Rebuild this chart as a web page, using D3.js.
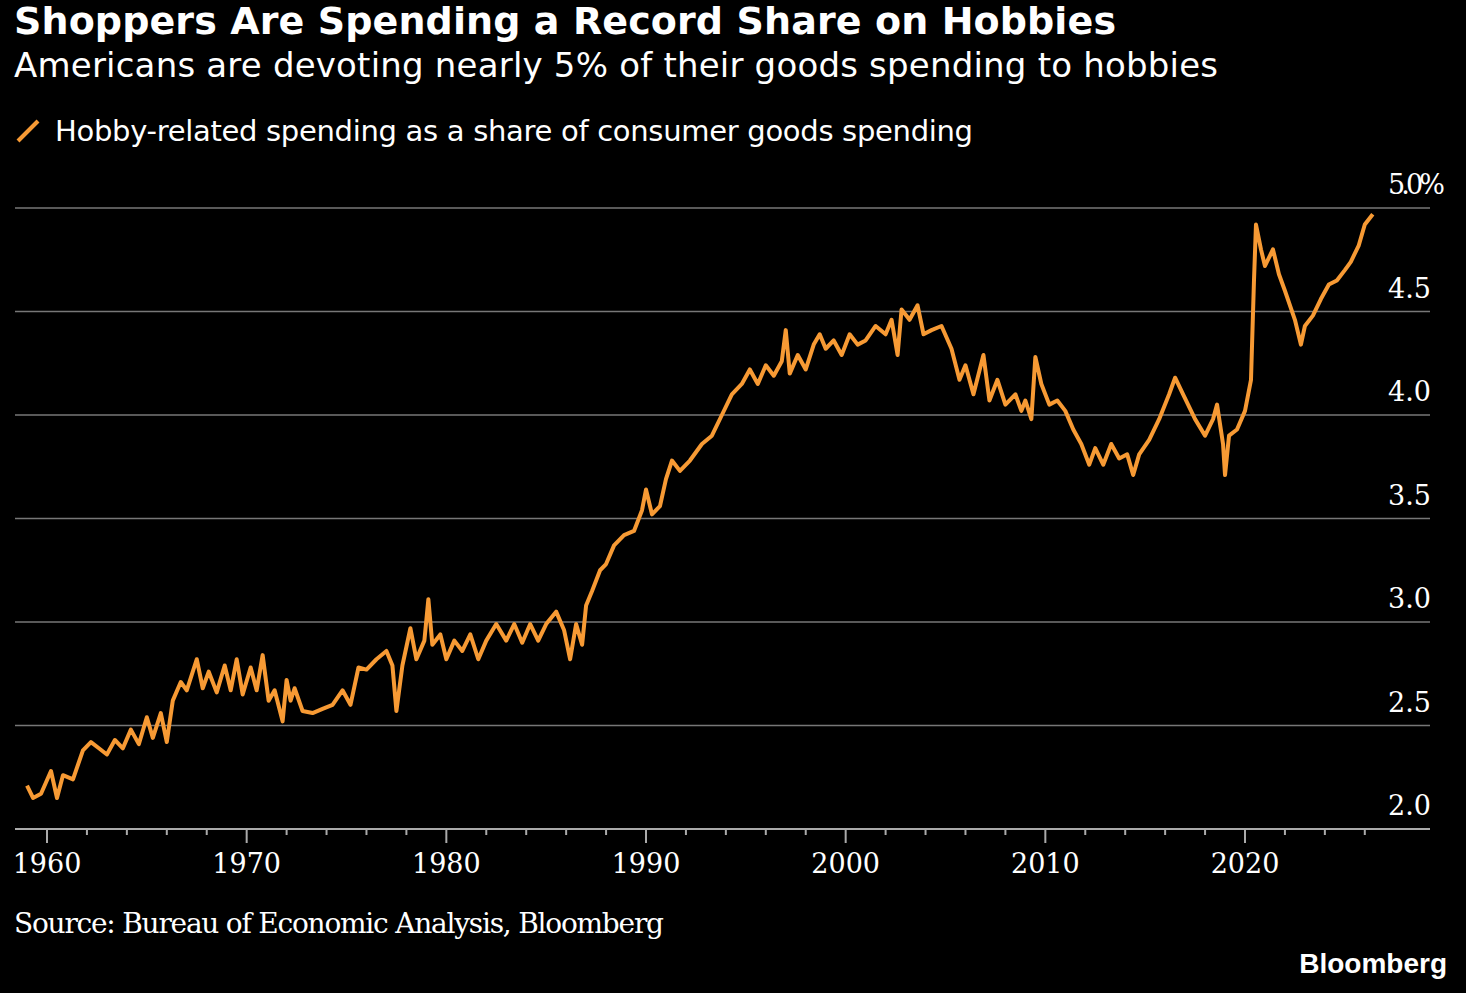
<!DOCTYPE html>
<html><head><meta charset="utf-8">
<script src="https://cdn.jsdelivr.net/npm/d3@7"></script>
<style>
body{margin:0;background:#000;}
svg{display:block;font-family:"Liberation Sans",Arial,sans-serif;}
</style></head><body>
<svg id="chart" width="1466" height="993"></svg>
<script>
const years = [1959.0,1959.3,1959.7,1960.2,1960.5,1960.8,1961.3,1961.8,1962.2,1962.6,1963.0,1963.4,1963.8,1964.2,1964.6,1965.0,1965.3,1965.7,1966.0,1966.3,1966.7,1967.0,1967.5,1967.8,1968.1,1968.5,1968.9,1969.2,1969.5,1969.8,1970.2,1970.5,1970.8,1971.1,1971.4,1971.8,1972.0,1972.2,1972.4,1972.8,1973.3,1973.8,1974.3,1974.8,1975.2,1975.6,1976.0,1976.5,1977.0,1977.3,1977.5,1977.8,1978.2,1978.5,1978.9,1979.1,1979.3,1979.7,1980.0,1980.4,1980.8,1981.2,1981.6,1982.0,1982.5,1983.0,1983.4,1983.8,1984.2,1984.6,1985.0,1985.5,1985.9,1986.2,1986.5,1986.8,1987.0,1987.3,1987.7,1988.0,1988.4,1988.9,1989.4,1989.8,1990.0,1990.3,1990.7,1991.0,1991.3,1991.7,1992.2,1992.8,1993.3,1993.8,1994.3,1994.8,1995.2,1995.6,1996.0,1996.4,1996.8,1997.0,1997.2,1997.6,1998.0,1998.4,1998.7,1999.0,1999.4,1999.8,2000.2,2000.6,2001.0,2001.5,2002.0,2002.3,2002.6,2002.8,2003.2,2003.6,2003.9,2004.3,2004.8,2005.3,2005.7,2006.0,2006.4,2006.9,2007.2,2007.6,2008.0,2008.5,2008.8,2009.0,2009.3,2009.5,2009.8,2010.2,2010.6,2011.0,2011.4,2011.8,2012.2,2012.5,2012.9,2013.3,2013.7,2014.1,2014.4,2014.7,2015.2,2015.7,2016.2,2016.5,2016.9,2017.5,2018.0,2018.4,2018.6,2018.9,2019.0,2019.2,2019.6,2020.0,2020.3,2020.45,2020.55,2020.8,2021.0,2021.4,2021.7,2022.0,2022.5,2022.8,2023.0,2023.4,2023.8,2024.2,2024.6,2025.0,2025.3,2025.7,2026.0,2026.4];
const share = [2.21,2.15,2.17,2.28,2.15,2.26,2.24,2.38,2.42,2.39,2.36,2.43,2.39,2.48,2.41,2.54,2.44,2.56,2.42,2.62,2.71,2.67,2.82,2.68,2.76,2.66,2.79,2.67,2.82,2.65,2.78,2.67,2.84,2.62,2.67,2.52,2.72,2.62,2.68,2.57,2.56,2.58,2.60,2.67,2.60,2.78,2.77,2.82,2.86,2.79,2.57,2.79,2.97,2.82,2.91,3.11,2.89,2.94,2.82,2.91,2.86,2.94,2.82,2.91,2.99,2.91,2.99,2.90,2.99,2.91,2.99,3.05,2.96,2.82,2.99,2.89,3.08,3.15,3.25,3.28,3.37,3.42,3.44,3.54,3.64,3.52,3.56,3.69,3.78,3.73,3.78,3.86,3.90,4.00,4.10,4.15,4.22,4.15,4.24,4.19,4.26,4.41,4.20,4.29,4.22,4.34,4.39,4.32,4.36,4.29,4.39,4.34,4.36,4.43,4.39,4.46,4.29,4.51,4.46,4.53,4.39,4.41,4.43,4.32,4.17,4.24,4.10,4.29,4.07,4.17,4.05,4.10,4.02,4.07,3.98,4.28,4.15,4.05,4.07,4.02,3.93,3.86,3.76,3.84,3.76,3.86,3.79,3.81,3.71,3.81,3.88,3.98,4.10,4.18,4.10,3.98,3.90,3.98,4.05,3.86,3.71,3.90,3.93,4.02,4.17,4.65,4.92,4.80,4.72,4.80,4.68,4.60,4.46,4.34,4.43,4.48,4.56,4.63,4.65,4.70,4.74,4.82,4.92,4.97];
const yTicks = [2.0,2.5,3.0,3.5,4.0,4.5,5.0];
const xTicks = [1960,1970,1980,1990,2000,2010,2020];

const svg = d3.select('#chart');
const L = 15, R = 1430;
const x = d3.scaleLinear().domain([1960, 2020]).range([47, 1245]);
const y = d3.scaleLinear().domain([2, 5]).range([829, 208]);

// gridlines + right labels
svg.append('g').selectAll('line').data(yTicks.slice(1)).join('line')
  .attr('x1', L).attr('x2', R).attr('y1', d => y(d)).attr('y2', d => y(d))
  .attr('stroke', '#777').attr('stroke-width', 1.5);
svg.append('line').attr('x1', L).attr('x2', R).attr('y1', y(2)).attr('y2', y(2))
  .attr('stroke', '#aaa').attr('stroke-width', 2);
svg.append('g').selectAll('text').data(yTicks).join('text')
  .attr('x', 1388).attr('y', d => y(d) - 14)
  .attr('fill', '#fff').attr('font-size', 27).attr('font-family', 'DejaVu Serif, serif')
  .each(function(d) { if (d === 5) d3.select(this).attr('textLength', 57); })
  .text(d => d === 5 ? '5.0%' : d.toFixed(1));

// x ticks (minor every 2 yrs)
const minor = d3.range(1960, 2027, 2);
svg.append('g').selectAll('line').data(minor).join('line')
  .attr('x1', d => x(d)).attr('x2', d => x(d)).attr('y1', y(2)).attr('y2', d => y(2) + (d % 10 === 0 ? 14 : 6))
  .attr('stroke', '#aaa').attr('stroke-width', 2);
svg.append('g').selectAll('text').data(xTicks).join('text')
  .attr('x', d => x(d)).attr('y', 873).attr('text-anchor', 'middle')
  .attr('fill', '#fff').attr('font-size', 27).attr('font-family', 'DejaVu Serif, serif')
  .text(d => d);

// series
const pts = years.map((yr, i) => [yr, share[i]]);
svg.append('path').datum(pts)
  .attr('d', d3.line().x(d => x(d[0])).y(d => y(d[1])))
  .attr('fill', 'none').attr('stroke', '#f79a34').attr('stroke-width', 4).attr('stroke-linejoin', 'round');

// titles
svg.append('text').attr('x', 14).attr('y', 34).attr('fill', '#fff')
  .attr('font-size', 38).attr('font-weight', 'bold').attr('font-family', 'DejaVu Sans, sans-serif')
  .attr('textLength', 1102).text('Shoppers Are Spending a Record Share on Hobbies');
svg.append('text').attr('x', 14).attr('y', 77).attr('fill', '#fff')
  .attr('font-size', 34).attr('font-family', 'DejaVu Sans, sans-serif').attr('textLength', 1204)
  .text('Americans are devoting nearly 5% of their goods spending to hobbies');
svg.append('line').attr('x1', 18).attr('y1', 141).attr('x2', 38).attr('y2', 121)
  .attr('stroke', '#f79a34').attr('stroke-width', 4);
svg.append('text').attr('x', 55).attr('y', 141).attr('fill', '#fff')
  .attr('font-size', 29).attr('font-family', 'DejaVu Sans, sans-serif').attr('textLength', 918)
  .text('Hobby-related spending as a share of consumer goods spending');
svg.append('text').attr('x', 14).attr('y', 933).attr('fill', '#fff')
  .attr('font-size', 28).attr('font-family', 'DejaVu Serif, serif').attr('textLength', 650)
  .text('Source: Bureau of Economic Analysis, Bloomberg');
svg.append('text').attr('x', 1447).attr('y', 973).attr('fill', '#fff').attr('text-anchor', 'end')
  .attr('font-size', 28).attr('font-weight', 'bold').attr('font-family', 'Liberation Sans, sans-serif')
  .text('Bloomberg');
</script></body></html>
